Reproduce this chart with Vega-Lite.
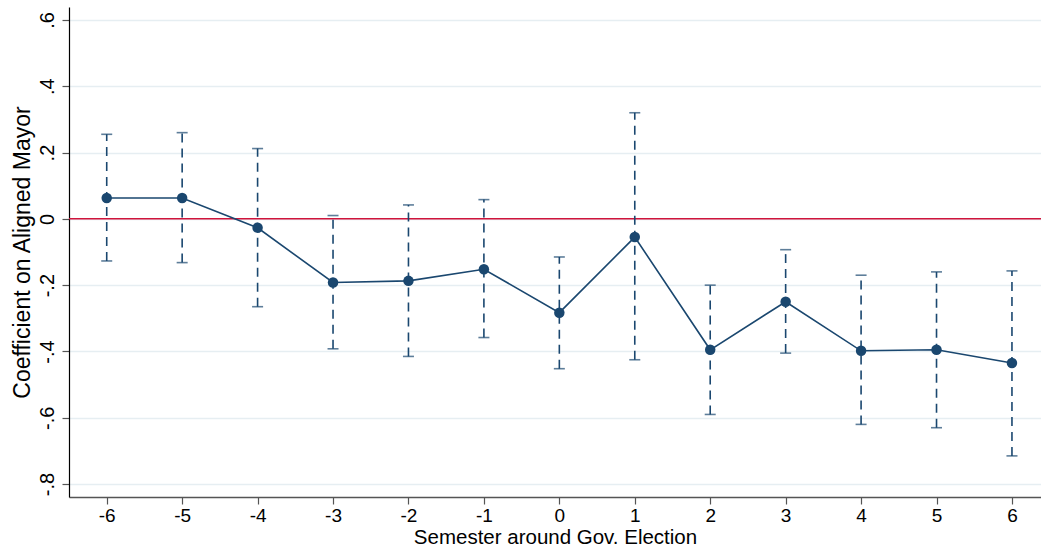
{
  "$schema": "https://vega.github.io/schema/vega-lite/v6.json",
  "autosize": "none",
  "width": 972,
  "height": 490,
  "padding": {"left": 69, "top": 7, "right": 0, "bottom": 57},
  "background": "white",
  "config": {
    "view": {"stroke": null},
    "font": "Liberation Sans",
    "axis": {"labelFont": "Liberation Sans", "titleFont": "Liberation Sans", "titleFontWeight": "normal", "labelColor": "black", "titleColor": "black"}
  },
  "data": {"values": [
    {"sem": -6, "b": 0.063, "lo": -0.127, "hi": 0.255},
    {"sem": -5, "b": 0.063, "lo": -0.132, "hi": 0.26},
    {"sem": -4, "b": -0.027, "lo": -0.265, "hi": 0.212},
    {"sem": -3, "b": -0.192, "lo": -0.392, "hi": 0.01},
    {"sem": -2, "b": -0.187, "lo": -0.415, "hi": 0.042},
    {"sem": -1, "b": -0.152, "lo": -0.358, "hi": 0.058},
    {"sem": 0, "b": -0.283, "lo": -0.452, "hi": -0.115},
    {"sem": 1, "b": -0.055, "lo": -0.425, "hi": 0.32},
    {"sem": 2, "b": -0.395, "lo": -0.59, "hi": -0.2},
    {"sem": 3, "b": -0.25, "lo": -0.405, "hi": -0.093},
    {"sem": 4, "b": -0.398, "lo": -0.62, "hi": -0.17},
    {"sem": 5, "b": -0.395, "lo": -0.63, "hi": -0.16},
    {"sem": 6, "b": -0.435, "lo": -0.715, "hi": -0.157}
  ]},
  "layer": [
    {
      "mark": {"type": "rule", "color": "#d0143c", "strokeWidth": 1.5},
      "data": {"values": [{"z": 0}]},
      "encoding": {
        "y": {"field": "z", "type": "quantitative", "scale": {"domain": [-0.839, 0.639], "nice": false, "zero": false}}
      }
    },
    {
      "mark": {"type": "rule", "color": "#1a476f", "strokeWidth": 1.6, "strokeDash": [9, 6]},
      "encoding": {
        "x": {"field": "sem", "type": "quantitative"},
        "y": {"field": "lo", "type": "quantitative"},
        "y2": {"field": "hi"}
      }
    },
    {
      "mark": {"type": "tick", "orient": "horizontal", "color": "#1a476f", "size": 11, "thickness": 1.6},
      "encoding": {
        "x": {"field": "sem", "type": "quantitative"},
        "y": {"field": "lo", "type": "quantitative"}
      }
    },
    {
      "mark": {"type": "tick", "orient": "horizontal", "color": "#1a476f", "size": 11, "thickness": 1.6},
      "encoding": {
        "x": {"field": "sem", "type": "quantitative"},
        "y": {"field": "hi", "type": "quantitative"}
      }
    },
    {
      "mark": {"type": "line", "color": "#1a476f", "strokeWidth": 1.6},
      "encoding": {
        "x": {"field": "sem", "type": "quantitative"},
        "y": {"field": "b", "type": "quantitative"}
      }
    },
    {
      "mark": {"type": "point", "filled": true, "color": "#1a476f", "opacity": 1, "size": 110},
      "encoding": {
        "x": {
          "field": "sem", "type": "quantitative",
          "scale": {"domain": [-6.5, 6.385], "nice": false, "zero": false},
          "axis": {
            "title": "Semester around Gov. Election",
            "values": [-6, -5, -4, -3, -2, -1, 0, 1, 2, 3, 4, 5, 6],
            "labelExpr": "'' + datum.value",
            "grid": false,
            "domainColor": "#555555",
            "domainWidth": 1.5,
            "tickColor": "#555555",
            "tickSize": 7,
            "tickWidth": 1.2,
            "labelFontSize": 19,
            "labelPadding": 2,
            "titleFontSize": 20.5,
            "titlePadding": 2,
            "titleAnchor": "middle"
          }
        },
        "y": {
          "field": "b", "type": "quantitative",
          "scale": {"domain": [-0.839, 0.639], "nice": false, "zero": false},
          "axis": {
            "title": "Coefficient on Aligned Mayor",
            "values": [-0.8, -0.6, -0.4, -0.2, 0, 0.2, 0.4, 0.6],
            "labelExpr": "replace('' + datum.value, '0.', '.')",
            "labelAngle": -90,
            "labelAlign": "center",
            "labelBaseline": "bottom",
            "labelPadding": 5,
            "labelFontSize": 20,
            "grid": true,
            "gridColor": "#e6eef2",
            "gridWidth": 1.5,
            "domainColor": "black",
            "domainWidth": 1.2,
            "tickColor": "#555555",
            "tickSize": 7,
            "tickWidth": 1.2,
            "titleFontSize": 23,
            "titlePadding": 3
          }
        }
      }
    }
  ]
}
